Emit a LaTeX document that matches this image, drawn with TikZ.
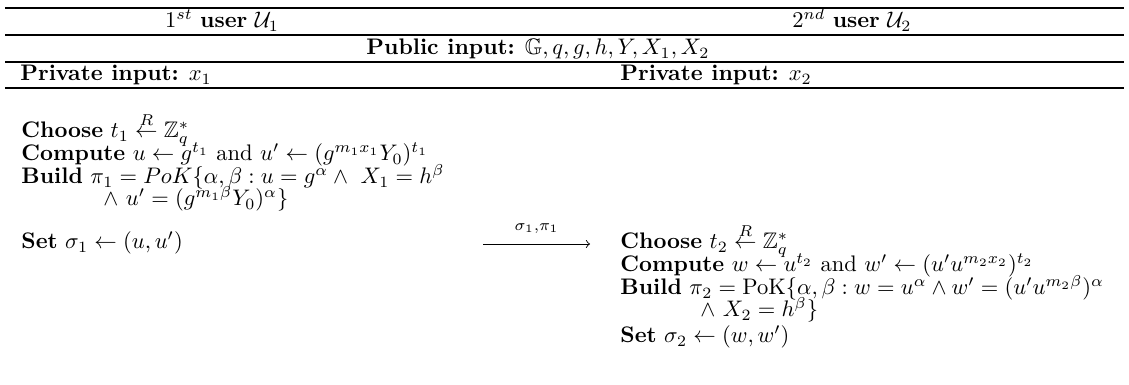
\documentclass[tikz,border=0pt]{standalone}
\usepackage{amsmath,amssymb}
\tikzset{
  txt/.style={anchor=base west, inner sep=0pt},
  hdr/.style={anchor=base, inner sep=0pt},
  rule/.style={line width=0.5pt}
}
\begin{document}
\begin{tikzpicture}[x=0.4444pt, y=-0.4444pt]
        \useasboundingbox (0,0) rectangle (1129,385);
        % table rules
        \draw[rule] (5,8) -- (1124,8);
        \draw[rule] (5,35) -- (1124,35);
        \draw[rule] (5,62) -- (1124,62);
        \draw[rule] (5,88) -- (1124,88);
        % header
        \node[hdr] (user1) at (222,28) {$1^{st}$ \textbf{user} $\mathcal{U}_1$};
        \node[hdr] (user2) at (852,28) {$2^{nd}$ \textbf{user} $\mathcal{U}_2$};
        \node[hdr] (pub) at (538,55) {\textbf{Public input:} $\mathbb{G}, q, g, h, Y, X_1, X_2$};
        \node[txt] (priv1) at (20,81) {\textbf{Private input:} $x_1$};
        \node[txt] (priv2) at (620,81) {\textbf{Private input:} $x_2$};
        % first user
        \node[txt] (choose1) at (21,138) {\textbf{Choose} $t_1 \stackrel{R}{\leftarrow} \mathbb{Z}_q^*$};
        \node[txt] (compute1) at (21,161) {\textbf{Compute} $u \leftarrow g^{t_1}$ and $u' \leftarrow (g^{m_1x_1}Y_0)^{t_1}$};
        \node[txt] (build1) at (21,184) {\textbf{Build} $\pi_1 = PoK\{\alpha,\beta : u = g^{\alpha} \wedge\ X_1 = h^{\beta}$};
        \node[txt] (cont1) at (103,206) {$\wedge\ u' = (g^{m_1\beta}Y_0)^{\alpha}\}$};
        \node[txt] (set1) at (21,249) {\textbf{Set} $\sigma_1 \leftarrow (u,u')$};
        % message
        \coordinate (from) at (483,244);
        \coordinate (to) at (590,244);
        \draw[->] (from) -- (to) node[midway, above=1pt] {$\scriptstyle\sigma_1,\pi_1$};
        % second user
        \node[txt] (choose2) at (620,249) {\textbf{Choose} $t_2 \stackrel{R}{\leftarrow} \mathbb{Z}_q^*$};
        \node[txt] (compute2) at (620,272) {\textbf{Compute} $w \leftarrow u^{t_2}$ and $w' \leftarrow (u'u^{m_2x_2})^{t_2}$};
        \node[txt] (build2) at (620,295) {\textbf{Build} $\pi_2 = \mathrm{PoK}\{\alpha,\beta : w = u^{\alpha} \wedge w' = (u'u^{m_2\beta})^{\alpha}$};
        \node[txt] (cont2) at (700,317) {$\wedge\ X_2 = h^{\beta}\}$};
        \node[txt] (set2) at (620,343) {\textbf{Set} $\sigma_2 \leftarrow (w,w')$};
\end{tikzpicture}
\end{document}
